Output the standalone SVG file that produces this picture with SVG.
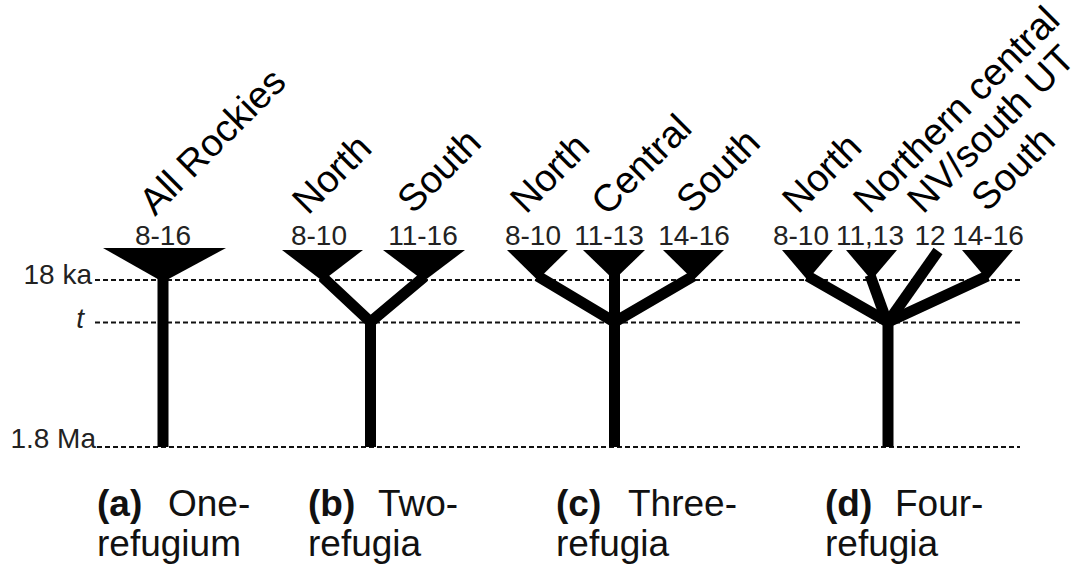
<svg xmlns="http://www.w3.org/2000/svg" width="1086" height="569" viewBox="0 0 1086 569">
<style>
text{font-family:"Liberation Sans",Arial,Helvetica,sans-serif;fill:#000}
.lab{font-size:38px}
.num{font-size:28px;fill:#222;text-anchor:middle}
.axis{font-size:28px;fill:#222;text-anchor:end}
.cap{font-size:37px;fill:#111}
.b{font-weight:bold}
.dash{stroke:#111;stroke-width:2;stroke-dasharray:5 3;fill:none}
.br{stroke:#000;stroke-width:11;fill:none;stroke-linecap:butt;stroke-linejoin:miter}
.tri{fill:#000}
</style>
<rect width="1086" height="569" fill="#fff"/>
<g id="axis">
<line class="dash" x1="95" y1="280" x2="1020" y2="280"/>
<line class="dash" x1="95" y1="322.5" x2="1020" y2="322.5"/>
<line class="dash" x1="97" y1="447" x2="1020" y2="447"/>
<text class="axis" x="92" y="284">18 ka</text>
<text class="axis" x="84" y="328" font-style="italic">t</text>
<text class="axis" x="96" y="448">1.8 Ma</text>
</g>
<g id="connectors">
<line class="br" x1="163" y1="274" x2="163" y2="447"/>
<polyline class="br" points="322.5,277 370.5,322 424,277"/>
<line class="br" x1="370.5" y1="318" x2="370.5" y2="447"/>
<polyline class="br" points="537.5,276 614.5,322 693.5,276"/>
<line class="br" x1="614.5" y1="272" x2="614.5" y2="447"/>
<polyline class="br" points="807.5,276 888,322 987.5,276"/>
<line class="br" x1="870" y1="275" x2="887" y2="322"/>
<line class="br" x1="938" y1="251" x2="888" y2="322"/>
<line class="br" x1="888" y1="318" x2="888" y2="447" stroke-width="12"/>
</g>
<g id="node-a">
<polygon class="tri" points="103,248 226,248 163,282"/>
<text class="num" x="163" y="245">8-16</text>
<text class="lab" transform="translate(155,217) rotate(-45)">All Rockies</text>
<text class="cap" y="516"><tspan class="b" x="97">(a)</tspan><tspan x="168">One-</tspan></text>
<text class="cap" x="97" y="556">refugium</text>
</g>
<g id="node-b">
<polygon class="tri" points="282,250 363,250 322.5,281"/>
<polygon class="tri" points="383,250 465,250 424,281"/>
<text class="num" x="319" y="245">8-10</text>
<text class="num" x="423" y="245">11-16</text>
<text class="lab" transform="translate(308,216) rotate(-45)">North</text>
<text class="lab" transform="translate(413,215) rotate(-45)">South</text>
<text class="cap" y="516"><tspan class="b" x="308">(b)</tspan><tspan x="378">Two-</tspan></text>
<text class="cap" x="308" y="556">refugia</text>
</g>
<g id="node-c">
<polygon class="tri" points="507,250 568,250 537.5,280"/>
<polygon class="tri" points="583,250 645,250 614,280"/>
<polygon class="tri" points="663,250 724,250 693.5,280"/>
<text class="num" x="533" y="245">8-10</text>
<text class="num" x="609" y="245">11-13</text>
<text class="num" x="694" y="245">14-16</text>
<text class="lab" transform="translate(526,215) rotate(-45)">North</text>
<text class="lab" transform="translate(607,217) rotate(-45)">Central</text>
<text class="lab" transform="translate(692,215) rotate(-45)">South</text>
<text class="cap" y="516"><tspan class="b" x="556">(c)</tspan><tspan x="628">Three-</tspan></text>
<text class="cap" x="556" y="556">refugia</text>
</g>
<g id="node-d">
<polygon class="tri" points="782,250 833,250 807.5,280"/>
<polygon class="tri" points="846,250 897,250 871.5,280"/>
<polygon class="tri" points="962,250 1013,250 987.5,280"/>
<text class="num" x="801" y="245">8-10</text>
<text class="num" x="870" y="245">11,13</text>
<text class="num" x="930" y="245">12</text>
<text class="num" x="988" y="245">14-16</text>
<text class="lab" transform="translate(798,215) rotate(-45)">North</text>
<text class="lab" transform="translate(869,215) rotate(-45)">Northern central</text>
<text class="lab" transform="translate(923,215) rotate(-45)">NV/south UT</text>
<text class="lab" transform="translate(987,213) rotate(-45)">South</text>
<text class="cap" y="516"><tspan class="b" x="825">(d)</tspan><tspan x="895">Four-</tspan></text>
<text class="cap" x="825" y="556">refugia</text>
</g>
</svg>
